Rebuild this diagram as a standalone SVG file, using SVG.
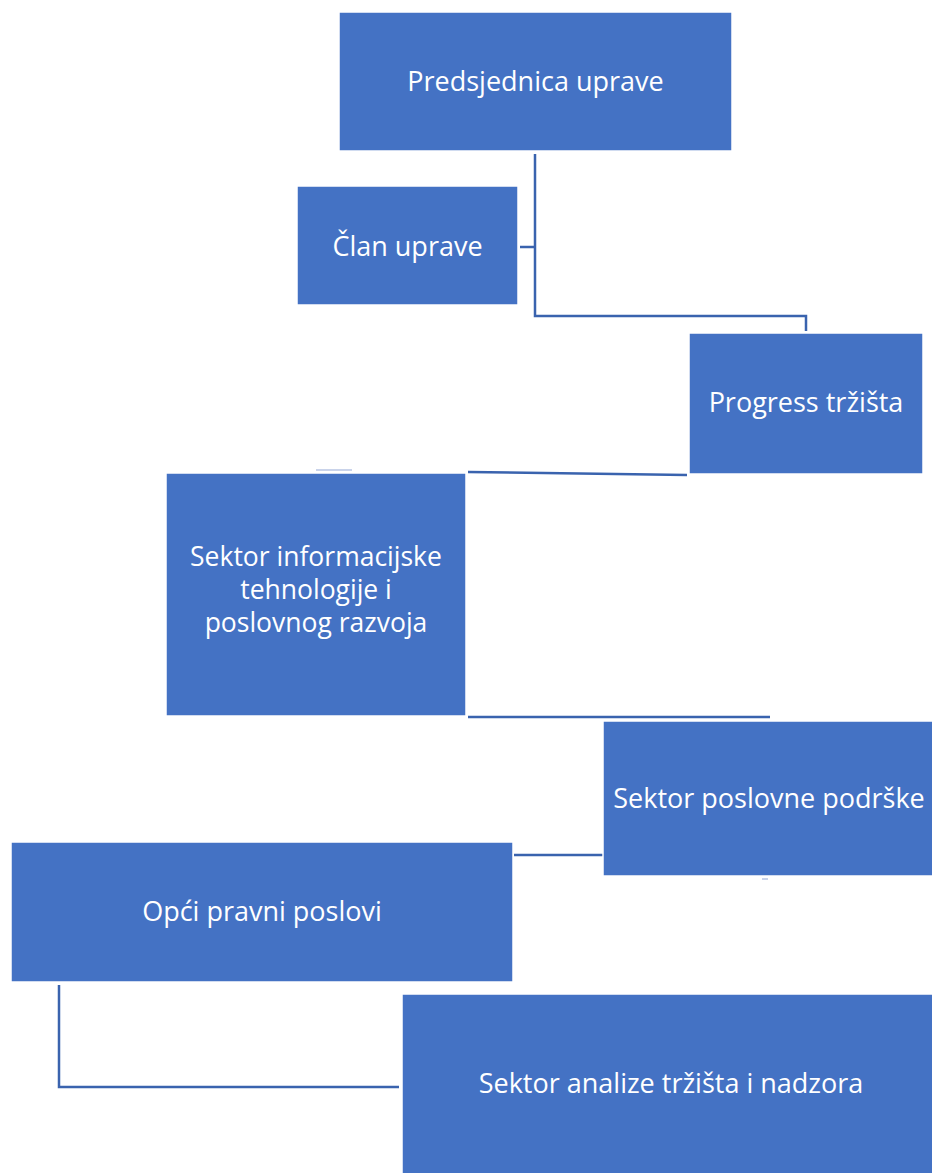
<svg xmlns="http://www.w3.org/2000/svg" width="932" height="1173" viewBox="0 0 932 1173">
<style>
.box{fill:#4472C4;stroke:#ffffff;stroke-width:1.5}
.lbl{font-family:"Open Sans","Liberation Sans",sans-serif;font-size:27px;fill:#ffffff;text-anchor:middle}
.ml{font-size:26.5px}
.con{fill:none;stroke:#3A63AE;stroke-width:2.5}
.faint{fill:none;stroke:#C9D3EA;stroke-width:2}
</style>
<rect width="932" height="1173" fill="#ffffff"/>
<g id="connectors">
<polyline class="con" points="535,154 535,316 806,316 806,331"/>
<line class="con" x1="520" y1="247" x2="535" y2="247"/>
<line class="con" x1="468" y1="472" x2="687" y2="475"/>
<line class="con" x1="468" y1="717" x2="770" y2="717"/>
<line class="con" x1="514" y1="855" x2="603" y2="855"/>
<polyline class="con" points="59,985 59,1087 399,1087"/>
<line class="faint" x1="316" y1="470" x2="352" y2="470"/>
<line class="faint" x1="762" y1="879" x2="768" y2="879"/>
</g>
<g id="n1"><rect class="box" x="339" y="12" width="393" height="139"/><text class="lbl" x="535.5" y="91">Predsjednica uprave</text></g>
<g id="n2"><rect class="box" x="297" y="186" width="221" height="119"/><text class="lbl" x="407.5" y="256">Član uprave</text></g>
<g id="n3"><rect class="box" x="689" y="333" width="234" height="141"/><text class="lbl" x="806" y="412">Progress tržišta</text></g>
<g id="n4"><rect class="box" x="166" y="473" width="300" height="243"/><text class="lbl ml" x="316" y="566">Sektor informacijske</text><text class="lbl ml" x="316" y="599">tehnologije i</text><text class="lbl ml" x="316" y="632">poslovnog razvoja</text></g>
<g id="n5"><rect class="box" x="603" y="721" width="332" height="155"/><text class="lbl" x="769" y="808">Sektor poslovne podrške</text></g>
<g id="n6"><rect class="box" x="11" y="842" width="502" height="140"/><text class="lbl" x="262" y="921">Opći pravni poslovi</text></g>
<g id="n7"><rect class="box" x="402" y="994" width="540" height="185"/><text class="lbl" x="671" y="1093">Sektor analize tržišta i nadzora</text></g>
</svg>
